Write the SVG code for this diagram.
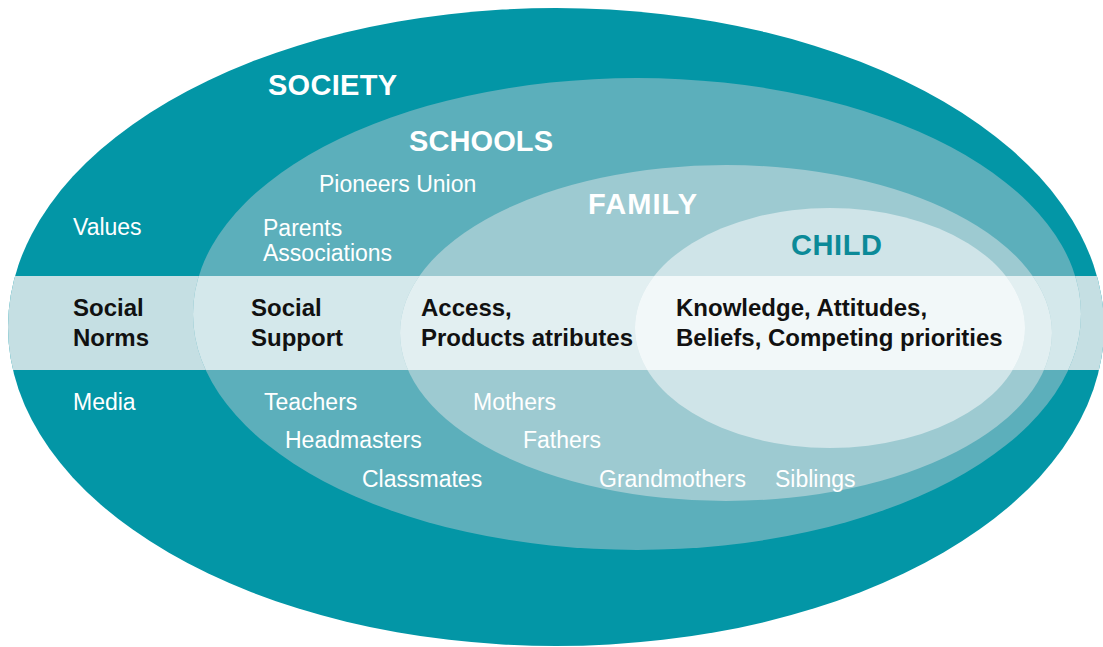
<svg xmlns="http://www.w3.org/2000/svg" width="1103" height="647" viewBox="0 0 1103 647">
<style>
.h{font-family:"Liberation Sans",Arial,sans-serif;font-weight:bold;font-size:29px;fill:#ffffff}
.l{font-family:"Liberation Sans",Arial,sans-serif;font-size:23px;fill:#ffffff}
.b{font-family:"Liberation Sans",Arial,sans-serif;font-weight:bold;font-size:24px;fill:#111111}
</style>
<defs>
<clipPath id="cSoc"><ellipse cx="556" cy="327" rx="548" ry="319"/></clipPath>
<clipPath id="cSch"><ellipse cx="637" cy="314" rx="444" ry="236"/></clipPath>
<clipPath id="cFam"><ellipse cx="726" cy="333" rx="326" ry="168"/></clipPath>
<clipPath id="cChi"><ellipse cx="830" cy="328" rx="195" ry="120"/></clipPath>
</defs>
<rect width="1103" height="647" fill="#ffffff"/>
<g id="society">
<ellipse cx="556" cy="327" rx="548" ry="319" fill="#0396a6"/>
<rect x="0" y="276" width="1103" height="94" fill="#c5dfe3" clip-path="url(#cSoc)"/>
</g>
<g id="schools">
<ellipse cx="637" cy="314" rx="444" ry="236" fill="#5cafbb"/>
<rect x="0" y="276" width="1103" height="94" fill="#d4e8eb" clip-path="url(#cSch)"/>
</g>
<g id="family">
<ellipse cx="726" cy="333" rx="326" ry="168" fill="#9dcad1"/>
<rect x="0" y="276" width="1103" height="94" fill="#e2eff1" clip-path="url(#cFam)"/>
</g>
<g id="child">
<ellipse cx="830" cy="328" rx="195" ry="120" fill="#cfe4e8"/>
<rect x="0" y="276" width="1103" height="94" fill="#f2f8f9" clip-path="url(#cChi)"/>
</g>
<g id="labels">
<text class="h" x="268" y="95" textLength="129">SOCIETY</text>
<text class="h" x="409" y="151" textLength="144">SCHOOLS</text>
<text class="h" x="588" y="214" textLength="109">FAMILY</text>
<text class="h" x="791" y="255" textLength="91" style="fill:#0b8a98">CHILD</text>
<text class="l" x="319" y="192">Pioneers Union</text>
<text class="l" x="73" y="235">Values</text>
<text class="l" x="263" y="236">Parents</text>
<text class="l" x="263" y="261">Associations</text>
<text class="b" x="73" y="316">Social</text>
<text class="b" x="73" y="346">Norms</text>
<text class="b" x="251" y="316">Social</text>
<text class="b" x="251" y="346">Support</text>
<text class="b" x="421" y="316">Access,</text>
<text class="b" x="421" y="346">Products atributes</text>
<text class="b" x="676" y="316">Knowledge, Attitudes,</text>
<text class="b" x="676" y="346">Beliefs, Competing priorities</text>
<text class="l" x="73" y="410">Media</text>
<text class="l" x="264" y="410">Teachers</text>
<text class="l" x="285" y="448">Headmasters</text>
<text class="l" x="362" y="487">Classmates</text>
<text class="l" x="473" y="410">Mothers</text>
<text class="l" x="523" y="448">Fathers</text>
<text class="l" x="599" y="487">Grandmothers</text>
<text class="l" x="775" y="487">Siblings</text>
</g>
</svg>
